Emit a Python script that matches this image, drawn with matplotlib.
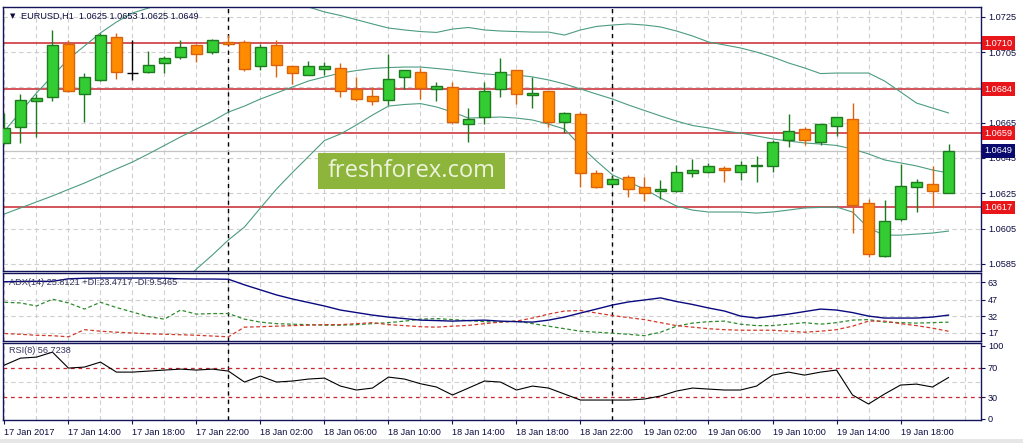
import numpy as np
import matplotlib
matplotlib.use("Agg")
import matplotlib.pyplot as plt
from matplotlib.patches import Rectangle
from matplotlib.transforms import blended_transform_factory

plt.rcParams['font.family'] = ['Liberation Sans', 'DejaVu Sans']

# ---------------- data ----------------
x_labels = ["17 Jan 2017", "17 Jan 14:00", "17 Jan 18:00", "17 Jan 22:00", "18 Jan 02:00",
            "18 Jan 06:00", "18 Jan 10:00", "18 Jan 14:00", "18 Jan 18:00", "18 Jan 22:00",
            "19 Jan 02:00", "19 Jan 06:00", "19 Jan 10:00", "19 Jan 14:00", "19 Jan 18:00"]
day_separators = [14, 38]   # bar index of 18 Jan 00:00 and 19 Jan 00:00

opens = [1.06537, 1.06627, 1.06771, 1.06797, 1.07094, 1.06814, 1.06893, 1.07133, 1.06930, 1.06935,
         1.06986, 1.07023, 1.07090, 1.07048, 1.07108, 1.07107, 1.06969, 1.07090, 1.06969, 1.06918,
         1.06956, 1.06958, 1.06839, 1.06799, 1.06777, 1.06907, 1.06935, 1.06839, 1.06850, 1.06641,
         1.06680, 1.06839, 1.06946, 1.06808, 1.06828, 1.06652, 1.06697, 1.06363, 1.06301, 1.06341,
         1.06284, 1.06261, 1.06261, 1.06363, 1.06369, 1.06392, 1.06369, 1.06403, 1.06403, 1.06550,
         1.06612, 1.06539, 1.06629, 1.06669, 1.06193, 1.05893, 1.06103, 1.06284, 1.06301, 1.06250]
highs = [1.06706, 1.06811, 1.06811, 1.07175, 1.07118, 1.06930, 1.07156, 1.07156, 1.07118, 1.07057,
         1.07027, 1.07118, 1.07095, 1.07125, 1.07146, 1.07118, 1.07094, 1.07118, 1.06972, 1.06999,
         1.06992, 1.06986, 1.06907, 1.06850, 1.07037, 1.06946, 1.06960, 1.06879, 1.06879, 1.06731,
         1.06882, 1.07014, 1.06950, 1.06910, 1.06830, 1.06708, 1.06709, 1.06380, 1.06348, 1.06354,
         1.06341, 1.06324, 1.06412, 1.06443, 1.06420, 1.06403, 1.06431, 1.06460, 1.06552, 1.06697,
         1.06624, 1.06641, 1.06680, 1.06760, 1.06219, 1.06212, 1.06418, 1.06329, 1.06406, 1.06530]
lows = [1.06529, 1.06537, 1.06571, 1.06774, 1.06825, 1.06655, 1.06886, 1.06896, 1.06892, 1.06933,
        1.06933, 1.07012, 1.06995, 1.07037, 1.07090, 1.06944, 1.06946, 1.06907, 1.06867, 1.06918,
        1.06918, 1.06797, 1.06774, 1.06748, 1.06748, 1.06839, 1.06786, 1.06774, 1.06642, 1.06539,
        1.06641, 1.06797, 1.06757, 1.06735, 1.06627, 1.06593, 1.06287, 1.06282, 1.06301, 1.06231,
        1.06208, 1.06219, 1.06259, 1.06341, 1.06363, 1.06312, 1.06324, 1.06312, 1.06369, 1.06510,
        1.06522, 1.06522, 1.06573, 1.06023, 1.05888, 1.05888, 1.06091, 1.06142, 1.06174, 1.06250]
closes = [1.06618, 1.06778, 1.06791, 1.07090, 1.06828, 1.06907, 1.07146, 1.06935, 1.06930, 1.06975,
          1.07014, 1.07077, 1.07037, 1.07116, 1.07094, 1.06956, 1.07077, 1.06975, 1.06930, 1.06969,
          1.06969, 1.06828, 1.06786, 1.06771, 1.06896, 1.06946, 1.06848, 1.06856, 1.06652, 1.06671,
          1.06828, 1.06935, 1.06814, 1.06816, 1.06655, 1.06706, 1.06367, 1.06287, 1.06329, 1.06273,
          1.06250, 1.06273, 1.06369, 1.06380, 1.06403, 1.06380, 1.06409, 1.06409, 1.06539, 1.06601,
          1.06550, 1.06641, 1.06680, 1.06182, 1.05905, 1.06093, 1.06290, 1.06312, 1.06261, 1.06490]

bb_upper = [1.06603, 1.06710, 1.06818, 1.06914, 1.07010, 1.07084, 1.07158, 1.07220, 1.07271, 1.07299,
            1.07328, 1.07345, 1.07356, 1.07362, 1.07362, 1.07362, 1.07356, 1.07350, 1.07333, 1.07305,
            1.07277, 1.07257, 1.07233, 1.07209, 1.07186, 1.07175, 1.07166, 1.07161, 1.07180, 1.07189,
            1.07175, 1.07169, 1.07166, 1.07163, 1.07163, 1.07146, 1.07175, 1.07195, 1.07203, 1.07209,
            1.07203, 1.07192, 1.07169, 1.07141, 1.07107, 1.07090, 1.07073, 1.07050, 1.07022, 1.06988,
            1.06960, 1.06928, 1.06931, 1.06931, 1.06931, 1.06886, 1.06824, 1.06761, 1.06733, 1.06705]
bb_middle = [1.06133, 1.06167, 1.06201, 1.06235, 1.06272, 1.06308, 1.06348, 1.06388, 1.06427, 1.06473,
             1.06521, 1.06569, 1.06614, 1.06659, 1.06710, 1.06744, 1.06784, 1.06818, 1.06852, 1.06886,
             1.06909, 1.06931, 1.06945, 1.06957, 1.06962, 1.06965, 1.06965, 1.06957, 1.06948, 1.06937,
             1.06926, 1.06920, 1.06920, 1.06909, 1.06892, 1.06869, 1.06841, 1.06812, 1.06784, 1.06750,
             1.06719, 1.06688, 1.06659, 1.06634, 1.06620, 1.06603, 1.06591, 1.06575, 1.06558, 1.06546,
             1.06535, 1.06529, 1.06521, 1.06501, 1.06473, 1.06439, 1.06422, 1.06405, 1.06382, 1.06365]
bb_lower = [1.05646, 1.05618, 1.05589, 1.05561, 1.05544, 1.05533, 1.05533, 1.05544, 1.05578, 1.05618,
            1.05668, 1.05736, 1.05821, 1.05901, 1.05986, 1.06059, 1.06167, 1.06274, 1.06368, 1.06458,
            1.06549, 1.06586, 1.06637, 1.06693, 1.06744, 1.06753, 1.06758, 1.06739, 1.06710, 1.06676,
            1.06679, 1.06682, 1.06676, 1.06665, 1.06642, 1.06614, 1.06518, 1.06433, 1.06354, 1.06314,
            1.06274, 1.06223, 1.06178, 1.06155, 1.06144, 1.06144, 1.06144, 1.06138, 1.06144, 1.06155,
            1.06167, 1.06170, 1.06172, 1.06144, 1.06053, 1.06013, 1.06013, 1.06019, 1.06025, 1.06036]

levels = [1.0710, 1.0684, 1.0659, 1.0617]
last_price = 1.0649
price_ticks = [1.0725, 1.0705, 1.0685, 1.0665, 1.0645, 1.0625, 1.0605, 1.0585]
hidden_ticks = [1.0685]   # fully covered by the 1.0684 level tag in the reference

adx = [63.3, 63.6, 63.7, 63.7, 66.0, 66.5, 66.7, 66.7, 66.7, 66.7,
       66.5, 66.0, 65.8, 65.8, 65.6, 60.5, 55.9, 51.3, 47.6, 44.4,
       41.2, 37.5, 35.2, 32.9, 31.1, 29.7, 28.3, 27.9, 27.4, 27.9,
       28.3, 27.4, 26.9, 26.5, 28.3, 31.1, 34.8, 38.4, 42.1, 44.9,
       46.7, 48.6, 45.3, 42.6, 39.4, 36.6, 32.0, 30.2, 32.0, 33.8,
       36.1, 38.4, 37.5, 35.2, 32.0, 30.2, 30.2, 30.2, 31.1, 32.9]
plus_di = [44.6, 44.0, 41.2, 47.4, 44.0, 38.4, 44.6, 39.8, 35.7, 31.5,
           29.2, 37.5, 33.8, 34.3, 34.3, 29.2, 26.5, 25.1, 24.6, 24.2,
           23.7, 23.7, 24.2, 25.1, 26.0, 27.4, 29.2, 29.7, 28.8, 27.9,
           26.9, 26.5, 27.4, 25.1, 22.8, 20.5, 18.2, 17.3, 16.4, 15.4,
           14.1, 17.3, 22.8, 25.6, 26.9, 27.4, 24.6, 23.3, 23.3, 24.6,
           26.0, 24.6, 26.0, 28.3, 28.8, 26.5, 26.0, 25.6, 26.0, 26.5]
minus_di = [16.1, 15.4, 14.5, 14.1, 13.1, 19.6, 18.2, 17.3, 16.6, 15.9,
            15.4, 15.0, 14.5, 13.8, 13.1, 21.9, 22.3, 22.8, 23.3, 23.7,
            24.2, 24.2, 25.1, 26.0, 24.2, 23.3, 22.3, 21.9, 22.8, 23.5,
            25.1, 26.5, 27.4, 30.2, 33.8, 36.6, 37.1, 34.8, 32.5, 30.6,
            28.8, 26.0, 23.3, 21.9, 20.5, 19.6, 19.1, 19.1, 19.1, 18.2,
            17.3, 18.2, 19.6, 22.8, 27.4, 27.4, 25.1, 23.3, 21.0, 18.2]
adx_ticks = [17, 32, 47, 63]

rsi = [73.7, 83.2, 84.6, 91.4, 69.6, 71.0, 77.8, 64.1, 64.1, 65.5,
       66.9, 68.2, 66.9, 68.2, 65.5, 50.5, 58.7, 50.5, 51.9, 54.6,
       55.9, 45.0, 39.6, 42.3, 57.3, 54.6, 48.2, 43.7, 32.8, 42.3,
       51.9, 50.5, 39.6, 45.0, 42.3, 34.1, 25.9, 25.9, 25.9, 25.9,
       27.3, 31.4, 38.2, 42.3, 40.9, 39.6, 39.6, 45.0, 60.0, 64.1,
       60.0, 64.1, 66.9, 32.8, 20.5, 34.1, 46.4, 47.7, 43.7, 56.7]
rsi_ticks = [0, 30, 70, 100]
rsi_levels = [70, 30]

# ---------------- style ----------------
W, H = 1023, 443
NAVY = '#14145a'
TXT = '#0c0c40'
GRID = '#cfcfcf'
RED = '#c8262c'
BULL, BULL_E = '#33cc33', '#1e7a1e'
BEAR, BEAR_E = '#ff8c00', '#d9620a'
BAND = '#4c9c80'
FS = 6.6

fig = plt.figure(figsize=(W / 100, H / 100), dpi=100, facecolor='white')


def px_axes(x0, y0, x1, y1):
    return fig.add_axes([x0 / W, 1 - y1 / H, (x1 - x0) / W, (y1 - y0) / H])


ax = px_axes(3, 7, 981, 271)
ax2 = px_axes(3, 273, 981, 341)
ax3 = px_axes(3, 342.5, 981, 420)

n = len(opens)
idx = np.arange(n)
XL = (-0.09, 61.03)

for a in (ax, ax2, ax3):
    a.set_xlim(*XL)
    a.set_facecolor('white')
    for s in a.spines.values():
        s.set_color(NAVY)
        s.set_linewidth(1.0)
    a.yaxis.tick_right()
    a.tick_params(axis='y', direction='out', length=3, width=0.8, color=NAVY,
                  labelsize=FS, labelcolor=TXT, pad=2)
    a.tick_params(axis='x', length=0, labelbottom=False)
    for gx in range(0, 62, 2):
        a.axvline(gx, color=GRID, lw=0.8, ls=(0, (4, 3)), zorder=0)
    for dsep in day_separators:
        a.axvline(dsep, color='black', lw=1.0, ls=(0, (3, 3)), zorder=1)

# ---------------- main chart ----------------
ax.set_ylim(1.05810, 1.07305)
ax.set_yticks(price_ticks)
ax.set_yticklabels(["" if v in hidden_ticks else f"{v:.4f}" for v in price_ticks])
for v in price_ticks:
    ax.axhline(v, color=GRID, lw=0.8, ls=(0, (4, 3)), zorder=0)

ax.axhline(last_price, color='#c4c4c4', lw=0.9, zorder=1)
for lv in levels:
    ax.axhline(lv, color=RED, lw=1.1, zorder=1.5)

ax.plot(idx, bb_upper, color=BAND, lw=0.8, zorder=2)
ax.plot(idx, bb_middle, color=BAND, lw=0.8, zorder=2)
ax.plot(idx, bb_lower, color=BAND, lw=0.8, zorder=2)

o = np.array(opens); h = np.array(highs); l = np.array(lows); c = np.array(closes)
doji = np.isclose(o, c)
up = (c > o) & ~doji
dn = (c < o) & ~doji
wick_col = np.where(up, BULL_E, np.where(dn, BEAR_E, 'black'))
ax.vlines(idx, l, h, colors=list(wick_col), lw=1.0, zorder=3)
bw = 0.64
ax.bar(idx[up], (c - o)[up], bottom=o[up], width=bw, color=BULL, edgecolor=BULL_E,
       linewidth=1.0, zorder=4)
ax.bar(idx[dn], (o - c)[dn], bottom=c[dn], width=bw, color=BEAR, edgecolor=BEAR_E,
       linewidth=1.0, zorder=4)
ax.hlines(o[doji], idx[doji] - bw / 2, idx[doji] + bw / 2, colors='black', lw=1.0, zorder=4)

# right-side price labels
tr = blended_transform_factory(ax.transAxes, ax.transData)
for lv in levels:
    ax.text(1.0035, lv, f"{lv:.4f}", transform=tr, ha='left', va='center', fontsize=FS,
            color='white', zorder=10, clip_on=False,
            bbox=dict(boxstyle='square,pad=0.25', fc='#e8151b', ec='none'))
ax.text(1.0035, last_price, f"{last_price:.4f}", transform=tr, ha='left', va='center',
        fontsize=FS, color='white', zorder=10, clip_on=False,
        bbox=dict(boxstyle='square,pad=0.25', fc='#0a0a6e', ec='none'))

# header
ax.text(0.0075, 0.975, "\u25BC", transform=ax.transAxes, fontsize=5, color=TXT,
        ha='left', va='top', family='DejaVu Sans')
ax.text(0.018, 0.982, f"EURUSD,H1  {opens[-1]:.4f} {highs[-1]:.4f} {lows[-1]:.4f} {closes[-1]:.4f}",
        transform=ax.transAxes, fontsize=6.6, color=TXT, ha='left', va='top')

# watermark
ax.add_patch(Rectangle((0.322, 0.311), 0.191, 0.136, transform=ax.transAxes,
                       fc='#8db53c', ec='none', zorder=8))
ax.text(0.4175, 0.377, "freshforex.com", transform=ax.transAxes, ha='center', va='center',
        fontsize=17, color='#eef3dc', family='Open Sans', zorder=9)

# ---------------- ADX ----------------
ax2.set_ylim(9.27, 71.3)
ax2.set_yticks(adx_ticks)
ax2.set_yticklabels([str(t) for t in adx_ticks])
for v in adx_ticks:
    ax2.axhline(v, color=GRID, lw=0.8, ls=(0, (4, 3)), zorder=0)
ax2.plot(idx, adx, color='#0a0a80', lw=1.0, zorder=3)
ax2.plot(idx, plus_di, color='#2e8b2e', lw=0.9, ls=(0, (3, 2)), zorder=2)
ax2.plot(idx, minus_di, color='#d23a2a', lw=0.9, ls=(0, (3, 2)), zorder=2)
ax2.text(0.006, 0.93, f"ADX(14) {25.8121:.4f} +DI:{23.4717:.4f} -DI:{9.5465:.4f}",
         transform=ax2.transAxes, fontsize=6.6, color='#33335a', ha='left', va='top', zorder=5)

# ---------------- RSI ----------------
ax3.set_ylim(-1.4, 104.6)
ax3.set_yticks(rsi_ticks)
ax3.set_yticklabels([str(t) for t in rsi_ticks])
for v in (50,):
    ax3.axhline(v, color=GRID, lw=0.8, ls=(0, (4, 3)), zorder=0)
for v in rsi_levels:
    ax3.axhline(v, color=RED, lw=0.9, ls=(0, (3, 3)), zorder=1)
ax3.plot(idx, rsi, color='black', lw=0.8, zorder=3)
ax3.text(0.006, 0.95, "RSI(8) 56.7238", transform=ax3.transAxes, fontsize=6.6,
         color='#33335a', ha='left', va='top', zorder=5)

# x axis labels
ax3.set_xticks(np.arange(0, 4 * len(x_labels), 4))
ax3.set_xticklabels(x_labels)
ax3.tick_params(axis='x', direction='out', length=3, width=0.8, color=NAVY,
                labelbottom=True, labelsize=FS, labelcolor=TXT, pad=2.5)
for t in ax3.get_xticklabels():
    t.set_ha('left')

# bottom strip
fig.patches.append(Rectangle((0, 0), 1, 4 / H, transform=fig.transFigure,
                             fc='#e6e6e6', ec='none', zorder=-1))

fig.savefig("out.png", dpi=100, facecolor='white')
